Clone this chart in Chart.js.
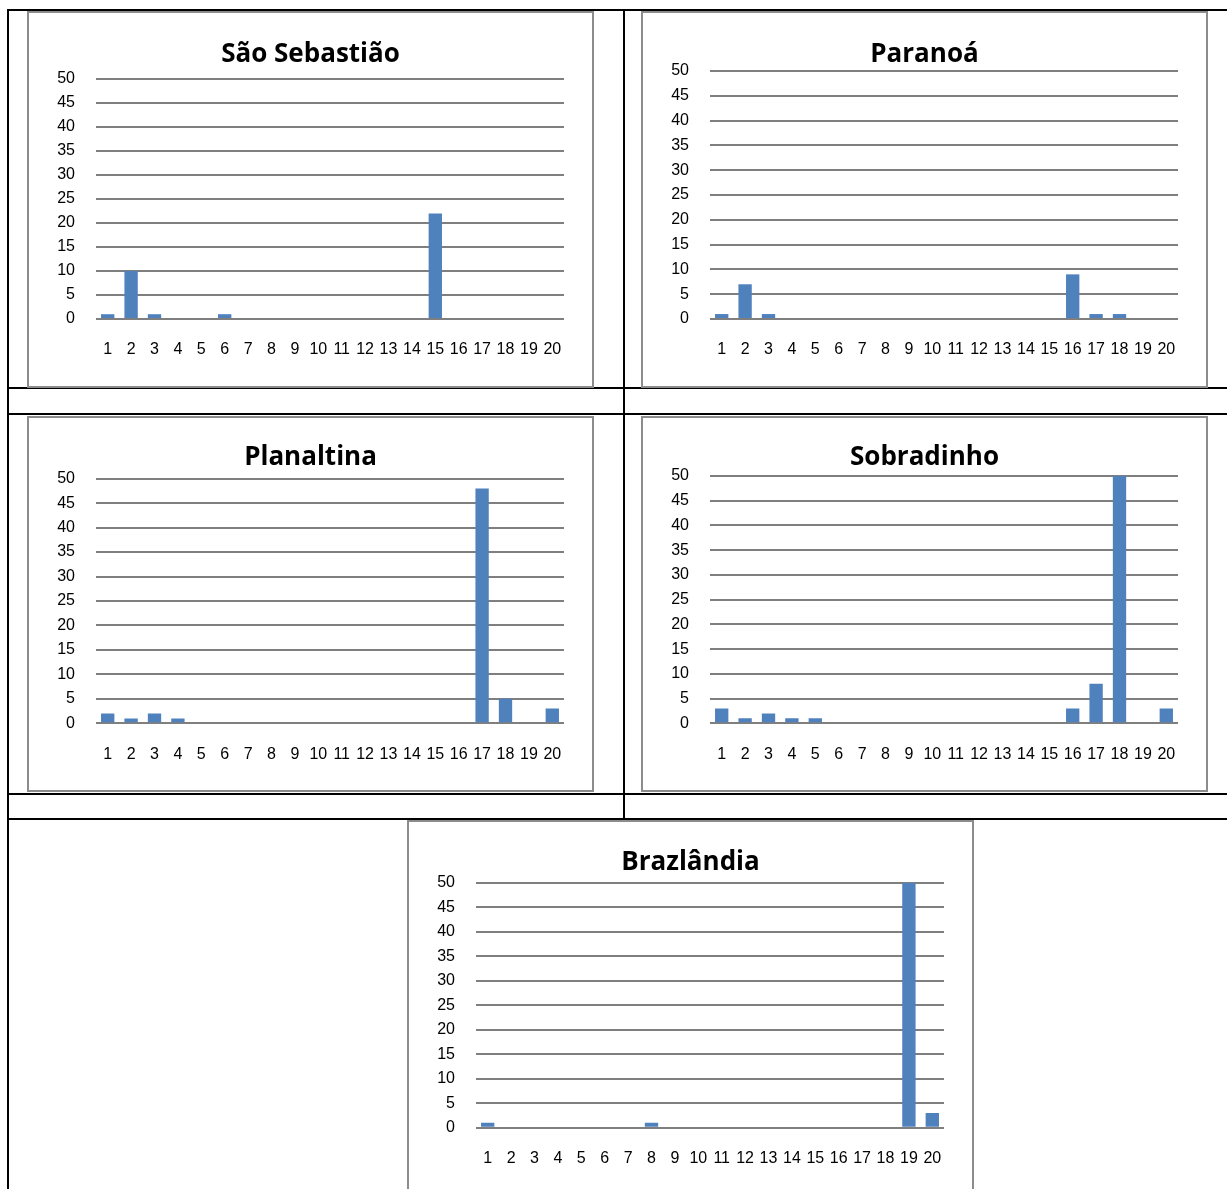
<!DOCTYPE html>
<html>
<head>
<meta charset="utf-8">
<title>Distribuição por categoria – regiões administrativas</title>
<script src="https://cdn.jsdelivr.net/npm/chart.js@4.4.1/dist/chart.umd.min.js"></script>
<style>
  html, body { margin: 0; padding: 0; background: #fff; }
  body { position: relative; width: 1227px; height: 1189px; overflow: hidden; }
  .rule { position: absolute; background: #000; }
  .panel { position: absolute; box-sizing: border-box; border: 2px solid #8c8c8c; background: #fff; }
  canvas.chart { position: absolute; }
</style>
</head>
<body>

<!-- table rules -->
<div class="rule" style="left:7px;top:9px;width:1220px;height:2px"></div>
<div class="rule" style="left:7px;top:9px;width:2px;height:1180px"></div>
<div class="rule" style="left:623px;top:9px;width:2px;height:810px"></div>
<div class="rule" style="left:7px;top:387px;width:1220px;height:2px"></div>
<div class="rule" style="left:7px;top:413px;width:1220px;height:2px"></div>
<div class="rule" style="left:7px;top:793px;width:1220px;height:2px"></div>
<div class="rule" style="left:7px;top:818px;width:1220px;height:2px"></div>

<script>
// Category labels (1..20) shared by every panel
const categories = ['1','2','3','4','5','6','7','8','9','10','11','12','13','14','15','16','17','18','19','20'];

// Counts per category for each region
const saoSebastiao = [1, 10, 1, 0, 0, 1, 0, 0, 0, 0, 0, 0, 0, 0, 22, 0, 0, 0, 0, 0];
const paranoa      = [1, 7, 1, 0, 0, 0, 0, 0, 0, 0, 0, 0, 0, 0, 0, 9, 1, 1, 0, 0];
const planaltina   = [2, 1, 2, 1, 0, 0, 0, 0, 0, 0, 0, 0, 0, 0, 0, 0, 48, 5, 0, 3];
const sobradinho   = [3, 1, 2, 1, 1, 0, 0, 0, 0, 0, 0, 0, 0, 0, 0, 3, 8, 50, 0, 3];
const brazlandia   = [1, 0, 0, 0, 0, 0, 0, 1, 0, 0, 0, 0, 0, 0, 0, 0, 0, 0, 50, 3];

// Value axis
const yMin = 0;
const yMax = 50;
const yStep = 5;

// Panel frames and inner geometry (page px; plot/title/label offsets relative to the frame)
const panels = [
  { title: 'São Sebastião', values: saoSebastiao, left: 27,  top: 11,  width: 567, height: 377, plotTop: 68,   plotBottom: 308,   titleCenter: 43.5, labelCenter: 339 },
  { title: 'Paranoá',       values: paranoa,      left: 641, top: 11,  width: 567, height: 377, plotTop: 60,   plotBottom: 308,   titleCenter: 43.5, labelCenter: 339 },
  { title: 'Planaltina',    values: planaltina,   left: 27,  top: 416, width: 567, height: 376, plotTop: 62.7, plotBottom: 307.3, titleCenter: 42,   labelCenter: 339 },
  { title: 'Sobradinho',    values: sobradinho,   left: 641, top: 416, width: 567, height: 376, plotTop: 60,   plotBottom: 307.3, titleCenter: 42,   labelCenter: 339 },
  { title: 'Brazlândia',    values: brazlandia,   left: 407, top: 820, width: 567, height: 377, plotTop: 62.7, plotBottom: 307.7, titleCenter: 43,   labelCenter: 339 }
];

const PLOT_LEFT = 69;
const PLOT_RIGHT_GAP = 30;
const TITLE_SIZE = 26;
const TITLE_LH = 1.2;
const TICK_SIZE = 16;
const TICK_LH = 1.2;

function drawPanel(p) {
  const frame = document.createElement('div');
  frame.className = 'panel';
  Object.assign(frame.style, { left: p.left + 'px', top: p.top + 'px', width: p.width + 'px', height: p.height + 'px' });
  document.body.appendChild(frame);

  const canvas = document.createElement('canvas');
  canvas.className = 'chart';
  canvas.width = p.width;
  canvas.height = p.height;
  Object.assign(canvas.style, { left: p.left + 'px', top: p.top + 'px', width: p.width + 'px', height: p.height + 'px' });
  document.body.appendChild(canvas);

  const titleLine = TITLE_SIZE * TITLE_LH;
  const padTop = p.titleCenter - titleLine / 2;
  const padBottom = p.plotTop - padTop - titleLine;
  const xPad = p.labelCenter - p.plotBottom - (TICK_SIZE * TICK_LH) / 2;
  const tickFont = { family: '"Liberation Sans", Arial, sans-serif', size: TICK_SIZE, lineHeight: TICK_LH };

  new Chart(canvas, {
    type: 'bar',
    data: {
      labels: categories,
      datasets: [{
        data: p.values,
        backgroundColor: '#4F81BD',
        borderWidth: 0,
        categoryPercentage: 1,
        barPercentage: 0.57
      }]
    },
    options: {
      responsive: false,
      animation: false,
      devicePixelRatio: 1,
      layout: { padding: 0 },
      plugins: {
        legend: { display: false },
        tooltip: { enabled: false },
        title: {
          display: true,
          text: p.title,
          color: '#000',
          font: { family: '"Open Sans", "Noto Sans", sans-serif', size: TITLE_SIZE, weight: 'bold', lineHeight: TITLE_LH },
          padding: { top: padTop, bottom: padBottom }
        }
      },
      scales: {
        x: {
          grid: { display: false, drawTicks: false },
          border: { display: false },
          ticks: { color: '#000', font: tickFont, padding: xPad, maxRotation: 0, autoSkip: false },
          afterFit(scale) { scale.height = p.height - p.plotBottom; }
        },
        y: {
          min: yMin,
          max: yMax,
          grid: { color: '#7f7f7f', lineWidth: 2, drawTicks: false },
          border: { display: false },
          ticks: { stepSize: yStep, color: '#000', font: tickFont, padding: 21 },
          afterFit(scale) { scale.width = PLOT_LEFT; }
        },
        gap: {
          position: 'right',
          grid: { display: false, drawTicks: false },
          border: { display: false },
          ticks: { display: false },
          afterFit(scale) { scale.width = PLOT_RIGHT_GAP; }
        }
      }
    }
  });
}

panels.forEach(drawPanel);
</script>
</body>
</html>
